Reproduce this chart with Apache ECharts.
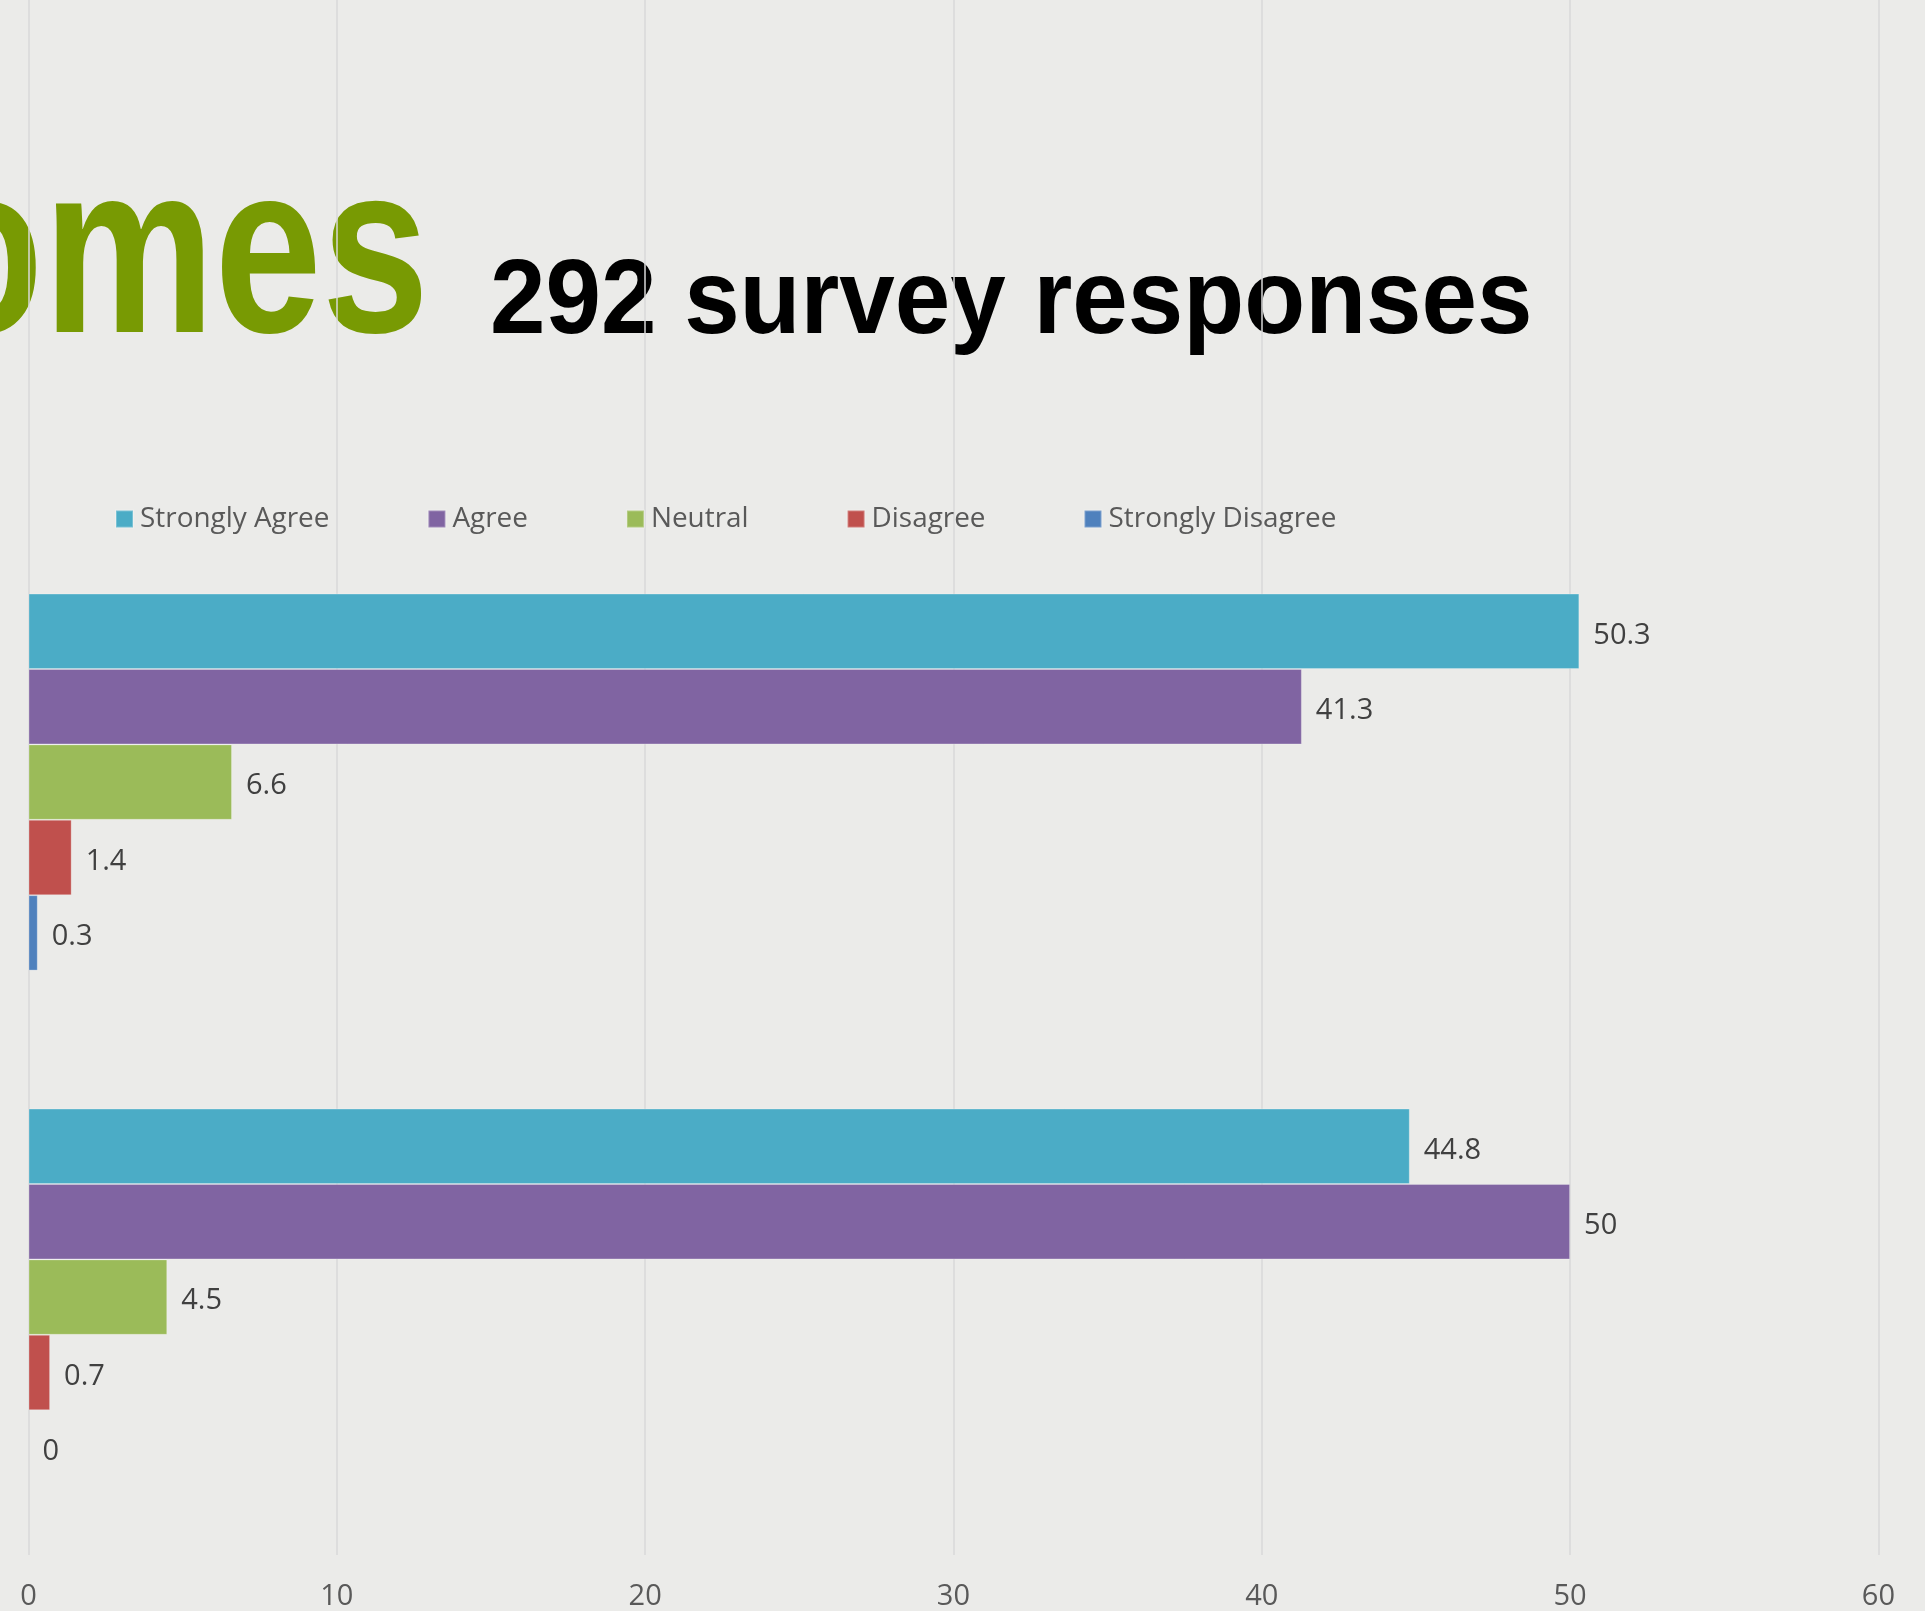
<!DOCTYPE html>
<html>
<head>
<meta charset="utf-8">
<script src="https://cdn.jsdelivr.net/npm/echarts@6/dist/echarts.min.js"></script>
<style>
html,body{margin:0;padding:0;background:#ebebe9;}
#chart{width:1925px;height:1611px;}
</style>
</head>
<body>
<div id="chart"></div>
<script>
const categories = ['Statement 1', 'Statement 2'];
const seriesNames = ['Strongly Agree', 'Agree', 'Neutral', 'Disagree', 'Strongly Disagree'];
const stronglyAgree = [50.3, 44.8];
const agree = [41.3, 50];
const neutral = [6.6, 4.5];
const disagree = [1.4, 0.7];
const stronglyDisagree = [0.3, 0];
const xTicks = [0, 10, 20, 30, 40, 50, 60];
const titleWord = 'Outcomes';
const subtitle = '292 survey responses';

const colors = ['#4bacc6', '#8064a2', '#9bbb59', '#c0504d', '#4f81bd'];
const values = [stronglyAgree, agree, neutral, disagree, stronglyDisagree];
const FONT = '"Open Sans", "Noto Sans", sans-serif';

const chart = echarts.init(document.getElementById('chart'));
const option = {
  backgroundColor: '#ebebe9',
  animation: false,
  color: colors,
  textStyle: { fontFamily: FONT },
  legend: {
    data: seriesNames,
    left: 110,
    top: 499,
    icon: 'rect',
    itemWidth: 17,
    itemHeight: 17,
    itemGap: 98,
    textStyle: { fontFamily: FONT, fontSize: 27.9, color: '#595959', lineHeight: 30, padding: [0, 0, 0, 2] }
  },
  graphic: [
    {
      type: 'text', x: 429, y: 265, scaleX: 0.79, silent: true,
      style: { text: titleWord, font: 'bold 244px "Liberation Sans", Arial, sans-serif', fill: '#789a03', align: 'right', verticalAlign: 'middle' }
    },
    {
      type: 'text', x: 490, y: 304, scaleX: 0.95, silent: true,
      style: { text: subtitle, font: 'bold 105px "Liberation Sans", Arial, sans-serif', fill: '#000000', align: 'left', verticalAlign: 'middle' }
    }
  ],
  grid: [
    { left: 28.5, right: 46.6, top: 524.6, bottom: 56.4 },
    { left: 28.5, right: 46.6, top: 0, bottom: 55 }
  ],
  xAxis: [
    { gridIndex: 0, type: 'value', min: 0, max: 60, interval: 10, show: false },
    {
      gridIndex: 1, type: 'value', min: 0, max: 60, interval: 10,
      axisLine: { show: false }, axisTick: { show: false },
      splitLine: { show: true, lineStyle: { color: '#d9d9d9', width: 1.5 } },
      axisLabel: {
        margin: 27, fontFamily: FONT, fontSize: 29, color: '#595959',
        formatter: function (v) { return xTicks.indexOf(v) >= 0 ? String(v) : ''; }
      }
    }
  ],
  yAxis: [
    {
      gridIndex: 0, type: 'category', data: categories, inverse: true,
      axisLine: { show: false }, axisTick: { show: false }, axisLabel: { show: false }, splitLine: { show: false }
    },
    {
      gridIndex: 1, type: 'category', data: [''], show: false
    }
  ],
  series: seriesNames.map(function (name, i) {
    return {
      name: name,
      type: 'bar',
      xAxisIndex: 0,
      yAxisIndex: 0,
      data: values[i].map(function (v) {
        return v === 0 ? { value: v, itemStyle: { borderWidth: 0 } } : v;
      }),
      barGap: '0%',
      barCategoryGap: '26.8%',
      itemStyle: { color: colors[i], borderColor: 'rgba(255,255,255,0.25)', borderWidth: 1 },
      label: {
        show: true, position: 'right', distance: 14, offset: [0, 4],
        fontFamily: FONT, fontSize: 29, color: '#404040'
      }
    };
  })
};
chart.setOption(option);
</script>
</body>
</html>
